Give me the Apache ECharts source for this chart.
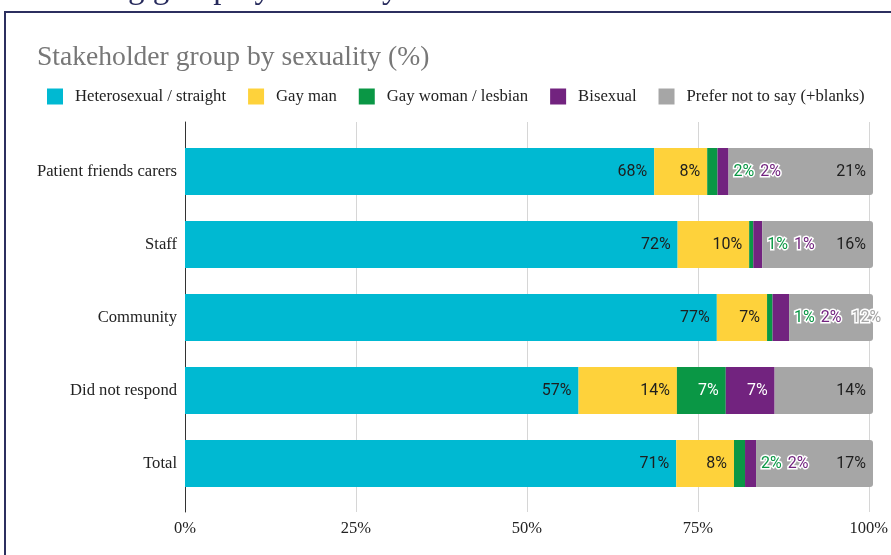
<!DOCTYPE html>
<html>
<head>
<meta charset="utf-8">
<script src="https://cdn.jsdelivr.net/npm/echarts@6/dist/echarts.min.js"></script>
<style>
  html, body { margin: 0; padding: 0; background: #fff; }
  #chart { width: 891px; height: 555px; }
</style>
</head>
<body>
<div id="chart"></div>
<script>
// Stakeholder groups (rows, top to bottom)
const categories = ['Patient friends carers', 'Staff', 'Community', 'Did not respond', 'Total'];

// Share of each group (%) by sexuality
const heterosexual = [68.2, 71.6, 77.3, 57.2, 71.4];
const gayMan       = [7.7, 10.4, 7.3, 14.3, 8.4];
const gayWoman     = [1.5, 0.6, 0.8, 7.1, 1.6];
const bisexual     = [1.6, 1.3, 2.4, 7.1, 1.6];
const preferNot    = [21.0, 16.1, 12.2, 14.3, 17.0];

const seriesNames = ['Heterosexual / straight', 'Gay man', 'Gay woman / lesbian', 'Bisexual', 'Prefer not to say (+blanks)'];
const seriesColors = ['#00b9d2', '#fed23b', '#0a9745', '#72237f', '#a6a6a6'];
const xTicks = [0, 25, 50, 75, 100];

const SERIF = "'Liberation Serif', 'DejaVu Serif', serif";
const SANS = "Roboto, 'Noto Sans', sans-serif";
const VALUE_FONT_SIZE = 16;

const GRID_LEFT = 185, GRID_RIGHT = 18;

const chart = echarts.init(document.getElementById('chart'), null, { renderer: 'canvas' });

const measureCtx = document.createElement('canvas').getContext('2d');
measureCtx.font = VALUE_FONT_SIZE + 'px Roboto';
const textWidth = s => measureCtx.measureText(s).width;
const pct = v => Math.round(v) + '%';

// Value labels: large segments are labelled inside at their right end;
// thin segments get haloed labels laid out one after another to their right.
function buildLabels() {
  const pxPer = (chart.getWidth() - GRID_LEFT - GRID_RIGHT) / 100;
  const labels = [[], [], [], [], []];
  const inside = (color) => ({
    show: true, position: 'insideRight', distance: 7,
    color: color, fontFamily: SANS, fontSize: VALUE_FONT_SIZE
  });
  const halo = (color, dx) => ({
    show: true, position: [dx, '50%'], align: 'left', verticalAlign: 'middle',
    color: color, fontFamily: SANS, fontSize: VALUE_FONT_SIZE,
    textBorderColor: '#fff', textBorderWidth: 3
  });
  categories.forEach((c, i) => {
    labels[0][i] = inside('#1e1e1e');
    labels[1][i] = inside('#1e1e1e');
    const g = gayWoman[i], b = bisexual[i], p = preferNot[i];
    let lastEnd = null; // right edge of the outside labels, measured from the end of the bisexual segment
    if (g < 3) {
      const dG = (g + b) * pxPer + 5;
      labels[2][i] = halo(seriesColors[2], dG);
      const gEnd = dG - g * pxPer + textWidth(pct(g)) - b * pxPer;
      if (b < 3) {
        const dB = b * pxPer + gEnd + 6;
        labels[3][i] = halo(seriesColors[3], dB);
        lastEnd = dB - b * pxPer + textWidth(pct(b));
      } else {
        labels[3][i] = inside('#fff');
        lastEnd = gEnd;
      }
    } else {
      labels[2][i] = inside('#fff');
      labels[3][i] = inside('#fff');
    }
    const pw = textWidth(pct(p));
    const insideLeft = p * pxPer - 7 - pw;
    if (lastEnd !== null && insideLeft < lastEnd + 6) {
      labels[4][i] = halo(seriesColors[4], lastEnd + 10);
    } else {
      labels[4][i] = inside('#1e1e1e');
    }
  });
  return labels;
}

const labels = buildLabels();
const seriesData = [heterosexual, gayMan, gayWoman, bisexual, preferNot];

const series = seriesData.map((arr, s) => ({
  name: seriesNames[s],
  type: 'bar',
  stack: 'total',
  xAxisIndex: 1,
  yAxisIndex: 1,
  barWidth: 47,
  itemStyle: { color: seriesColors[s], borderRadius: s === 4 ? [0, 3, 3, 0] : 0 },
  label: { formatter: p => pct(p.value) },
  emphasis: { disabled: true },
  data: arr.map((v, i) => ({ value: v, label: labels[s][i] }))
}));

const option = {
  animation: false,
  backgroundColor: '#fff',
  title: {
    text: 'Stakeholder group by sexuality (%)',
    left: 37, top: 44, padding: 0,
    textStyle: { fontFamily: SERIF, fontSize: 27.6, fontWeight: 'normal', color: '#777' }
  },
  legend: {
    left: 47, top: 88, padding: 0,
    itemWidth: 16, itemHeight: 16, itemGap: 22,
    icon: 'rect',
    selectedMode: false,
    data: seriesNames,
    textStyle: { fontFamily: SERIF, fontSize: 16.7, color: '#222', padding: [0, 0, 0, 7] }
  },
  graphic: [
    {
      type: 'text', left: 128, top: -27, silent: true,
      style: { text: 'g group by sexuality', font: '33px ' + SERIF, fill: '#262a5c' }
    },
    {
      type: 'rect', silent: true, z: -1,
      shape: { x: 5, y: 12, width: 1000, height: 1000 },
      style: { fill: 'none', stroke: '#2c2f5f', lineWidth: 2 }
    }
  ],
  grid: [
    { left: GRID_LEFT, right: GRID_RIGHT, top: 122, bottom: 43 },
    { left: GRID_LEFT, right: GRID_RIGHT, top: 135, bottom: 55 }
  ],
  xAxis: [
    {
      gridIndex: 0, type: 'value', min: xTicks[0], max: xTicks[xTicks.length - 1], interval: 25,
      axisLine: { show: false }, axisTick: { show: false },
      splitLine: { show: true, lineStyle: { color: '#d6d6d6', width: 1 } },
      axisLabel: { formatter: '{value}%', fontFamily: SERIF, fontSize: 16.5, color: '#222', margin: 8 }
    },
    {
      gridIndex: 1, type: 'value', min: 0, max: 100, show: false
    }
  ],
  yAxis: [
    {
      gridIndex: 0, type: 'value', min: 0, max: 1,
      axisLine: { show: true, lineStyle: { color: '#333', width: 1 } },
      axisTick: { show: false }, axisLabel: { show: false }, splitLine: { show: false }
    },
    {
      gridIndex: 1, type: 'category', inverse: true, data: categories,
      axisLine: { show: false }, axisTick: { show: false },
      axisLabel: { fontFamily: SERIF, fontSize: 16.6, color: '#222', margin: 8 }
    }
  ],
  series: series
};

chart.setOption(option);
</script>
</body>
</html>
